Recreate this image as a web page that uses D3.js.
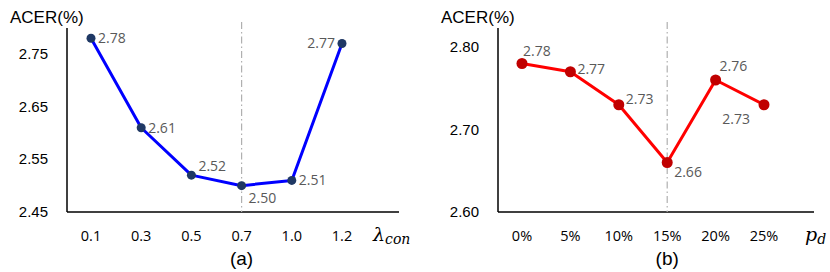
<!DOCTYPE html>
<html>
<head>
<meta charset="utf-8">
<script src="https://cdn.jsdelivr.net/npm/d3@7"></script>
<style>
  body { margin: 0; background: #fff; }
  svg { display: block; font-family: "Liberation Sans", Arial, sans-serif; }
</style>
</head>
<body>
<svg id="chart" width="830" height="272"></svg>
<script>
// panel (a) data
const lambdaLabels = ["0.1", "0.3", "0.5", "0.7", "1.0", "1.2"];
const lambdaAcer = [2.78, 2.61, 2.52, 2.50, 2.51, 2.77];
const lambdaTicks = [2.45, 2.55, 2.65, 2.75];

// panel (b) data
const pdLabels = ["0%", "5%", "10%", "15%", "20%", "25%"];
const pdAcer = [2.78, 2.77, 2.73, 2.66, 2.76, 2.73];
const pdTicks = [2.60, 2.70, 2.80];

const svg = d3.select("#chart");

function drawPanel(opts) {
    const g = svg.append("g");

    const x = d3.scalePoint()
        .domain(opts.cats)
        .range([opts.x0, opts.x1]);

    const y = d3.scaleLinear()
        .domain(opts.yDomain)
        .range([212, opts.yTop]);

    // axes lines
    g.append("line")
        .attr("x1", opts.axisX).attr("x2", opts.axisX)
        .attr("y1", 28).attr("y2", 212)
        .attr("stroke", "#000").attr("stroke-width", 1.5);
    g.append("line")
        .attr("x1", opts.axisX).attr("x2", opts.axisEnd)
        .attr("y1", 212).attr("y2", 212)
        .attr("stroke", "#000").attr("stroke-width", 1.5);

    // y tick labels
    g.selectAll("text.ytick")
        .data(opts.ticks)
        .enter()
        .append("text")
        .attr("class", "ytick")
        .attr("x", opts.axisX - 19)
        .attr("y", d => y(d) + 5)
        .attr("text-anchor", "end")
        .style("font-size", "15px")
        .text(d => d.toFixed(2));

    // x tick labels
    g.selectAll("text.xtick")
        .data(opts.cats)
        .enter()
        .append("text")
        .attr("class", "xtick")
        .attr("x", d => x(d))
        .attr("y", 241)
        .attr("text-anchor", "middle")
        .style("font-size", "14.5px")
        .style("font-family", "'Open Sans', sans-serif")
        .text(d => d);

    // y title
    g.append("text")
        .attr("x", opts.axisX - 57)
        .attr("y", 23)
        .style("font-size", "17px")
        .text("ACER(%)");

    // x variable
    const xv = g.append("text")
        .attr("x", opts.varX)
        .attr("y", 241)
        .style("font-family", "'DejaVu Serif', serif")
        .style("font-style", "italic")
        .style("font-size", "19px")
        .text(opts.varMain);
    xv.append("tspan")
        .attr("dy", 3)
        .style("font-size", "14px")
        .text(opts.varSub);

    // panel caption
    g.append("text")
        .attr("x", x(opts.cats[3]))
        .attr("y", 265)
        .attr("text-anchor", "middle")
        .style("font-size", "19px")
        .text(opts.caption);

    // dash-dot marker line
    g.append("line")
        .attr("x1", x(opts.cats[3])).attr("x2", x(opts.cats[3]))
        .attr("y1", 22).attr("y2", 212)
        .attr("stroke", "#b0b0b0")
        .attr("stroke-width", 1.2)
        .attr("stroke-dasharray", "7,3,1.5,3");

    const pts = opts.cats.map((c, i) => ({ cat: c, v: opts.values[i], i: i }));

    g.append("path")
        .datum(pts)
        .attr("d", d3.line().x(d => x(d.cat)).y(d => y(d.v)))
        .attr("fill", "none")
        .attr("stroke", opts.lineColor)
        .attr("stroke-width", 3)
        .attr("stroke-linejoin", "round");

    g.selectAll("circle")
        .data(pts)
        .enter()
        .append("circle")
        .attr("cx", d => x(d.cat))
        .attr("cy", d => y(d.v))
        .attr("r", opts.r)
        .attr("fill", opts.dotColor);

    g.selectAll("text.val")
        .data(pts)
        .enter()
        .append("text")
        .attr("class", "val")
        .attr("x", d => x(d.cat) + opts.offsets[d.i][0])
        .attr("y", d => y(d.v) + opts.offsets[d.i][1])
        .attr("text-anchor", d => opts.offsets[d.i][0] < 0 ? "end" : "start")
        .style("font-size", "14px")
        .style("font-family", "'Open Sans', sans-serif")
        .attr("fill", "#595959")
        .text(d => d.v.toFixed(2));
}

drawPanel({
    cats: lambdaLabels, values: lambdaAcer, ticks: lambdaTicks,
    x0: 91, x1: 342, yDomain: [2.45, 2.75], yTop: 54,
    axisX: 67, axisEnd: 399, varX: 373, varMain: "λ", varSub: "con",
    caption: "(a)", lineColor: "#0000ff", dotColor: "#1f3864", r: 4.5,
    offsets: [[7, 5], [7, 5], [7, -4], [7, 17], [7, 5], [-7, 5]]
});

drawPanel({
    cats: pdLabels, values: pdAcer, ticks: pdTicks,
    x0: 522, x1: 764, yDomain: [2.60, 2.80], yTop: 47,
    axisX: 498, axisEnd: 814, varX: 805, varMain: "p", varSub: "d",
    caption: "(b)", lineColor: "#ff0000", dotColor: "#c00000", r: 5.5,
    offsets: [[1, -8], [7, 2], [7, -1], [7, 14], [4, -9], [-14, 19]]
});
</script>
</body>
</html>
